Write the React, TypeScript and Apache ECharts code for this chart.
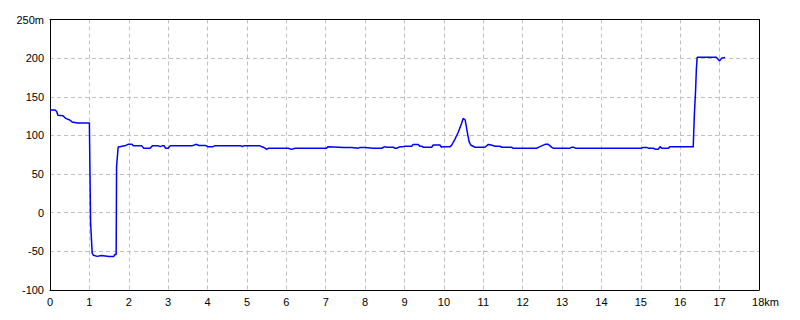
import React, { useEffect, useRef } from "react";
import * as echarts from "echarts";

// Distance along route (km)
const distanceKm: number[] = [
  0, 0.13, 0.17, 0.2, 0.33, 0.4, 0.5, 0.56, 0.7, 1.0, 1.01, 1.03, 1.07, 1.1, 1.2, 1.3, 1.4, 1.5, 1.62, 1.65, 1.68,
  1.69, 1.73, 1.9, 1.98, 2.08, 2.12, 2.33, 2.38, 2.54, 2.6, 2.75, 2.8, 2.85, 2.9, 2.93, 3.0, 3.05, 3.6, 3.72,
  3.78, 3.95, 4.0, 4.14, 4.18, 4.85, 4.88, 4.92, 5.33, 5.4, 5.46, 5.5, 5.55, 5.71, 6.05, 6.13, 6.22, 7.02,
  7.06, 7.45, 7.66, 7.83, 7.87, 8.0, 8.21, 8.33, 8.42, 8.5, 8.55, 8.72, 8.76, 8.8, 8.89, 8.97, 9.01, 9.18,
  9.22, 9.35, 9.39, 9.44, 9.48, 9.69, 9.73, 9.9, 9.94, 9.99, 10.16, 10.2, 10.28, 10.37, 10.45, 10.49, 10.54,
  10.6, 10.64, 10.68, 10.79, 11.04, 11.13, 11.2, 11.3, 11.42, 11.47, 11.72, 11.76, 12.35, 12.4, 12.48, 12.57,
  12.65, 12.74, 12.78, 13.2, 13.24, 13.3, 13.34, 15.02, 15.06, 15.15, 15.19, 15.32, 15.36, 15.44, 15.49,
  15.53, 15.7, 15.74, 16.3, 16.33, 16.34, 16.36, 16.39, 16.41, 16.43, 16.92, 16.97, 17.0, 17.05, 17.14,
];

// Elevation (m)
const elevationM: number[] = [
  133, 133, 131, 126, 125.5, 122, 120, 117.5, 116, 116, 72, -12, -52, -55, -56.5, -55.5, -56, -56.5, -56.5, -54, -54,
  60, 85, 86.5, 88.5, 88.5, 86.5, 86.5, 83.5, 83.5, 86.5, 86.5, 85.5, 86.5, 86.5, 83.5, 83.5, 86.5, 86.5, 88.5,
  87, 87, 85.5, 85.5, 86.5, 86.5, 85.5, 86.5, 86.5, 85, 83.5, 82, 83.5, 83.5, 83.5, 82, 83.5, 83.5,
  85.5, 84.5, 84.5, 83.5, 84.5, 84.5, 83.5, 83.5, 83.4, 85.5, 84.7, 84.7, 83.4, 83.4, 85.5, 85.5, 86, 86,
  88.4, 88.4, 86, 86, 84.7, 84.7, 87.6, 87.6, 84.7, 85.5, 85.5, 87.6, 95, 104.8, 115.7, 122, 120,
  102.7, 92, 87.6, 84.7, 84.7, 88.4, 87.6, 86, 86, 84.7, 84.7, 83.4, 83.4, 84.6, 86.5, 88.5,
  88.5, 84.6, 83.5, 83.5, 84.6, 84.6, 83.5, 83.5, 84.5, 84.5, 83.5, 83.5, 82.2, 82.2, 85.5,
  83.5, 83.5, 85.5, 85.5, 85, 100, 128, 158, 186, 201, 201, 198, 196.5, 200, 201,
];

const xTicks = { min: 0, max: 18, interval: 1, unit: "km" };
const yTicks = { min: -100, max: 250, interval: 50, unit: "m" };

export default function App() {
  const ref = useRef<HTMLDivElement>(null);

  useEffect(() => {
    if (!ref.current) return;
    const chart = echarts.init(ref.current, null, { renderer: "svg" });
    const font = "Liberation Sans";
    const split = { show: true, lineStyle: { color: "#c0c0c0", type: [4, 3] as number[], width: 1 } };
    const frameAxis = {
      type: "value" as const,
      axisLine: { show: true, onZero: false, lineStyle: { color: "#000", width: 1 } },
      axisTick: { show: false },
      axisLabel: { show: false },
      splitLine: { show: false },
    };
    chart.setOption({
      animation: false,
      backgroundColor: "#ffffff",
      grid: {
        left: 50,
        right: 41,
        top: 19.5,
        bottom: 30,
        show: false,
      },
      xAxis: [
        {
          type: "value",
          min: xTicks.min,
          max: xTicks.max,
          interval: xTicks.interval,
          axisLine: { show: true, onZero: false, lineStyle: { color: "#000", width: 1 } },
          axisTick: { show: false },
          splitLine: split,
          axisLabel: {
            color: "#000",
            fontFamily: font,
            fontSize: 11,
            margin: 6,
            formatter: (v: number) => (v === xTicks.max ? "{u|" + v + xTicks.unit + "}" : String(v)),
            rich: {
              u: { padding: [0, 0, 0, 13], fontFamily: font, fontSize: 11, color: "#000" },
            },
          },
        },
        { ...frameAxis, position: "top", min: xTicks.min, max: xTicks.max },
      ],
      yAxis: [
        {
          type: "value",
          min: yTicks.min,
          max: yTicks.max,
          interval: yTicks.interval,
          axisLine: { show: true, onZero: false, lineStyle: { color: "#000", width: 1 } },
          axisTick: { show: false },
          splitLine: split,
          axisLabel: {
            color: "#000",
            fontFamily: font,
            fontSize: 11,
            margin: 6,
            formatter: (v: number) => (v === yTicks.max ? v + yTicks.unit : String(v)),
          },
        },
        { ...frameAxis, position: "right", min: yTicks.min, max: yTicks.max },
      ],
      series: [
        {
          type: "line",
          xAxisIndex: 0,
          yAxisIndex: 0,
          data: distanceKm.map((d, i) => [d, elevationM[i]]),
          showSymbol: false,
          symbol: "none",
          lineStyle: { color: "#0000ff", width: 1.5 },
          silent: true,
          z: 3,
        },
      ],
    });
    return () => chart.dispose();
  }, []);

  return (
    <div
      ref={ref}
      style={{ position: "fixed", left: 0, top: 0, width: 800, height: 320, background: "#fff" }}
    />
  );
}
